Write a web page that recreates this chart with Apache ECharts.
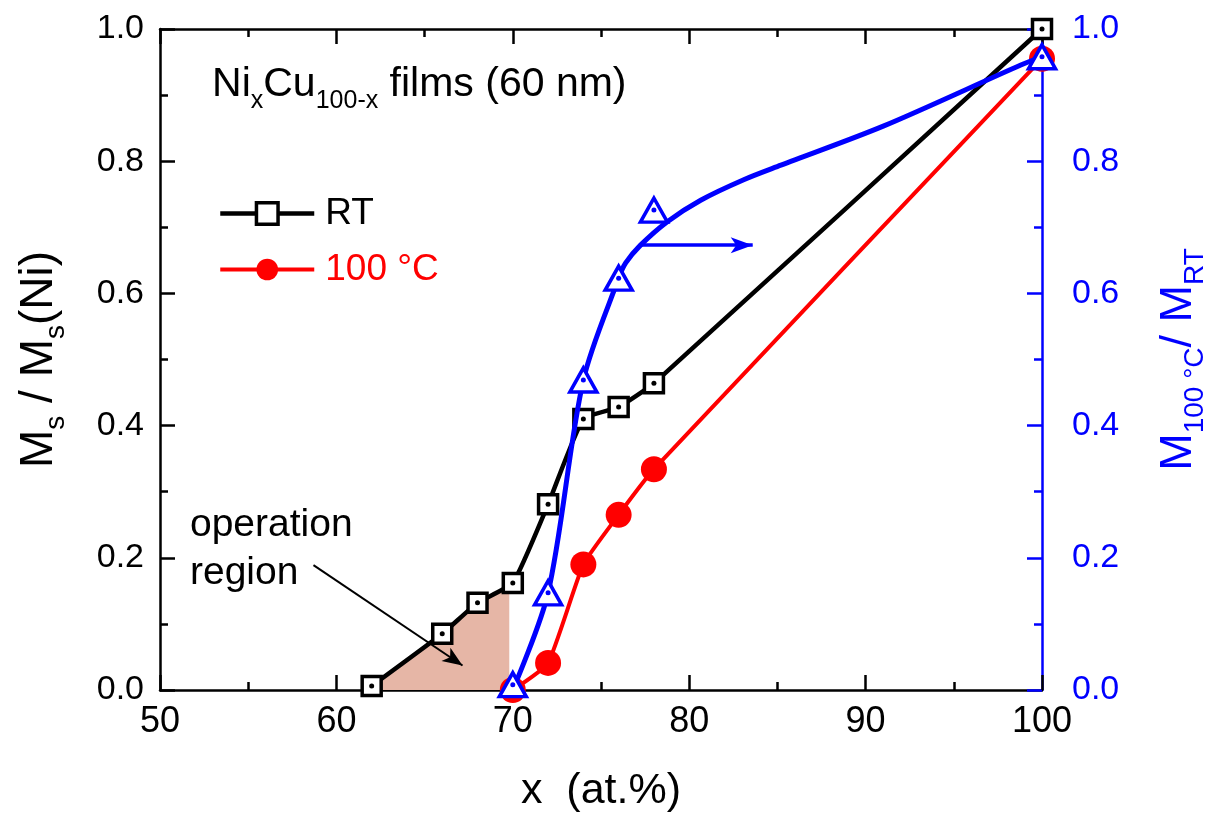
<!DOCTYPE html>
<html><head><meta charset="utf-8">
<script src="https://cdn.jsdelivr.net/npm/echarts@6/dist/echarts.min.js"></script>
<style>html,body{margin:0;padding:0;background:#fff}#c{width:1218px;height:825px}</style>
</head><body><div id="c"></div>
<script>
// ---- data ----
const xRT = [62, 66, 68, 70, 72, 74, 76, 78, 100];
const yRT = [0.006, 0.085, 0.132, 0.162, 0.281, 0.41, 0.428, 0.464, 1.0];
const x100 = [70, 72, 74, 76, 78, 100];
const y100 = [0.0, 0.041, 0.19, 0.265, 0.334, 0.955];
const xRatio = [70, 72, 74, 76, 78, 100];
const yRatio = [0.008, 0.147, 0.469, 0.623, 0.726, 0.958];
const xGuide = [70, 72, 74, 76, 76.4, 77.24, 78.76, 80.65, 83.09, 85.2, 91, 98.8, 100];
const yGuide = [0, 0.147, 0.469, 0.623, 0.646, 0.673, 0.7085, 0.741, 0.772, 0.794, 0.853, 0.9455, 0.958];
const xRegion = [62, 66, 68, 69.8];
const yRegion = [0.006, 0.085, 0.132, 0.158];
const xTickLabels = ['50', '60', '70', '80', '90', '100'];
const yTickLabels = ['0.0', '0.2', '0.4', '0.6', '0.8', '1.0'];
const seriesNames = ['RT', '100 °C'];
const arrowRatio = [[77.24, 0.673], [83.6, 0.673]];
const arrowRegion = [[58.7, 0.189], [67.15, 0.037]];
const titlePos = [52.95, 0.918];
const notePos = [51.7, 0.285];

const zip = (a, b) => a.map((v, i) => [v, b[i]]);
const FONT = '"Liberation Sans", Arial, sans-serif';
const BLUE = '#0000ff', RED = '#ff0000', BLACK = '#000000';

function axisStyle(color) {
  return {
    axisLine: { show: true, onZero: false, lineStyle: { color, width: 2.5 } },
    axisTick: { show: true, inside: true, length: 15, lineStyle: { color, width: 2.5 } },
    minorTick: { show: true, splitNumber: 2, length: 8, lineStyle: { color, width: 2.5 } },
    splitLine: { show: false }, minorSplitLine: { show: false }
  };
}
const subRich = (color, big, small, drop) => ({
  a: { fontSize: big, lineHeight: big + 4, color, fill: color, fontFamily: FONT },
  s: { fontSize: small, lineHeight: small, padding: [drop, 0, 0, 0], color, fill: color, fontFamily: FONT }
});

const chart = echarts.init(document.getElementById('c'));
chart.setOption({
  animation: false,
  backgroundColor: '#fff',
  grid: { left: 160, right: 176, top: 29, bottom: 135, containLabel: false },
  legend: {
    data: [
      { name: seriesNames[0], textStyle: { color: BLACK },
        itemStyle: { color: '#ffffff', borderColor: BLACK, borderWidth: 3.5 }, lineStyle: { color: BLACK, width: 4.5 } },
      { name: seriesNames[1], textStyle: { color: RED },
        itemStyle: { color: RED, borderWidth: 0 }, lineStyle: { color: RED, width: 4 } }
    ],
    orient: 'vertical', left: 213, top: 190, itemWidth: 94, itemHeight: 27, itemGap: 19,
    textStyle: { fontSize: 37, fontFamily: FONT, padding: [0, 0, 0, 6] }
  },
  xAxis: [
    Object.assign({
      type: 'value', min: 50, max: 100, interval: 10, position: 'bottom',
      name: 'x  (at.%)', nameLocation: 'middle', nameGap: 80,
      nameTextStyle: { fontSize: 43, fontFamily: FONT, color: BLACK },
      axisLabel: { fontSize: 36, fontFamily: FONT, color: BLACK, margin: 14,
        formatter: (v) => xTickLabels[Math.round((v - 50) / 10)] }
    }, axisStyle(BLACK)),
    Object.assign({
      type: 'value', min: 50, max: 100, interval: 10, position: 'top',
      axisLabel: { show: false }
    }, axisStyle(BLACK))
  ],
  yAxis: [
    Object.assign({
      type: 'value', min: 0, max: 1, interval: 0.2, position: 'left',
      name: '{a|M}{s|s}{a| / M}{s|s}{a|(Ni)}', nameLocation: 'middle', nameGap: 96, nameRotate: 90,
      nameTextStyle: { rich: subRich(BLACK, 46, 28, 34), padding: [0, 0, 0, 0] },
      axisLabel: { fontSize: 34, fontFamily: FONT, color: BLACK, margin: 16,
        formatter: (v) => yTickLabels[Math.round(v / 0.2)] }
    }, axisStyle(BLACK)),
    Object.assign({
      type: 'value', min: 0, max: 1, interval: 0.2, position: 'right',
      name: '{a|M}{s|100 °C}{a|/ M}{s|RT}', nameLocation: 'middle', nameGap: 112, nameRotate: 90,
      nameTextStyle: { rich: subRich(BLUE, 45, 28, 34) },
      axisLabel: { fontSize: 34, fontFamily: FONT, color: BLUE, margin: 30,
        formatter: (v) => yTickLabels[Math.round(v / 0.2)] }
    }, axisStyle(BLUE))
  ],
  series: [
    {
      name: 'region', type: 'line', data: zip(xRegion, yRegion), symbol: 'none', silent: true, z: 1,
      lineStyle: { width: 0 }, areaStyle: { color: '#e6b6a6', opacity: 1 },
      markLine: {
        silent: true, symbol: ['none', 'arrow'], symbolSize: [12, 20],
        label: { show: false }, lineStyle: { color: BLACK, width: 2, type: 'solid', opacity: 1 },
        emphasis: { disabled: true },
        data: [[{ coord: arrowRegion[0] }, { coord: arrowRegion[1] }]]
      }
    },
    {
      name: seriesNames[1], type: 'line', data: zip(x100, y100), smooth: 0.15, z: 3,
      symbol: 'circle', symbolSize: 26, itemStyle: { color: RED, opacity: 1 },
      lineStyle: { color: RED, width: 4 }
    },
    {
      name: seriesNames[0], type: 'line', data: zip(xRT, yRT), smooth: 0.15, z: 4,
      symbol: 'rect', symbolSize: 19,
      itemStyle: { color: '#ffffff', borderColor: BLACK, borderWidth: 3.5, opacity: 1 },
      lineStyle: { color: BLACK, width: 4.5 }
    },
    {
      name: 'RTdot', type: 'scatter', data: zip(xRT, yRT), symbol: 'circle', symbolSize: 5,
      itemStyle: { color: BLACK, opacity: 1 }, z: 5, silent: true
    },
    {
      name: 'guide', type: 'line', yAxisIndex: 1, data: zip(xGuide, yGuide), smooth: 0.3, symbol: 'none', z: 5,
      lineStyle: { color: BLUE, width: 5 },
      markLine: {
        silent: true, symbol: ['none', 'arrow'], symbolSize: [12, 22],
        label: { show: false }, lineStyle: { color: BLUE, width: 3.5, type: 'solid', opacity: 1 },
        emphasis: { disabled: true },
        data: [[{ coord: arrowRatio[0] }, { coord: arrowRatio[1] }]]
      }
    },
    {
      name: 'ratio', type: 'scatter', yAxisIndex: 1, data: zip(xRatio, yRatio), symbol: 'triangle',
      symbolSize: [27, 24], z: 6,
      itemStyle: { color: '#ffffff', borderColor: BLUE, borderWidth: 3.5, opacity: 1 }
    },
    {
      name: 'ratioDot', type: 'scatter', yAxisIndex: 1, data: zip(xRatio, yRatio), symbol: 'circle', symbolSize: 5,
      itemStyle: { color: BLUE, opacity: 1 }, z: 7, silent: true
    }
  ]
});

const pt = chart.convertToPixel({ xAxisIndex: 0, yAxisIndex: 0 }, titlePos);
const pn = chart.convertToPixel({ xAxisIndex: 0, yAxisIndex: 0 }, notePos);
chart.setOption({
  graphic: [
    {
      type: 'text', left: pt[0], top: pt[1] - 28, z: 10,
      style: {
        text: '{a|Ni}{s|x}{a|Cu}{s|100-x}{a| films (60 nm)}',
        rich: {
          a: { fontSize: 41, lineHeight: 45, fill: BLACK, fontFamily: FONT },
          s: { fontSize: 25, lineHeight: 25, padding: [33, 0, 0, 0], fill: BLACK, fontFamily: FONT }
        }
      }
    },
    {
      type: 'text', left: pn[0], top: pn[1], z: 10,
      style: { text: 'operation\nregion', fontSize: 39, lineHeight: 48, fill: BLACK, fontFamily: FONT }
    }
  ]
});
</script>
</body></html>
